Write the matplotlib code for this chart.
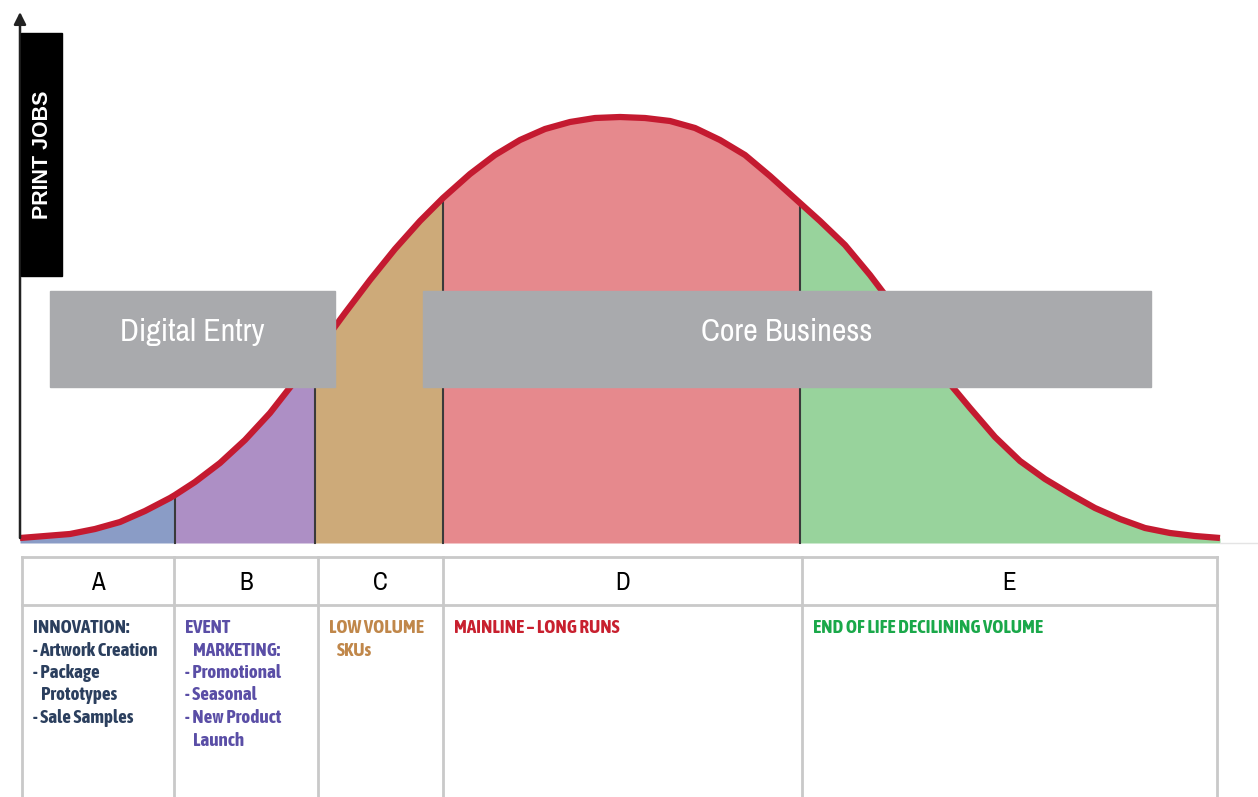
import numpy as np
import matplotlib.pyplot as plt
from matplotlib import font_manager
from matplotlib.patches import Rectangle

# print jobs (height above the base line, px)
curve_x = [20, 45, 70, 95, 120, 145, 170, 175, 195, 220, 245, 270, 295, 315, 320,
           345, 370, 395, 420, 443, 470, 495, 520, 545, 570, 595, 620, 645, 670,
           695, 720, 745, 770, 800, 820, 845, 870, 895, 920, 945, 970, 995, 1020,
           1045, 1070, 1095, 1120, 1145, 1170, 1195, 1220]
jobs = [3, 5, 7, 12, 19, 30, 43, 46, 59, 78, 101, 128, 160, 187, 194,
        228, 261, 292, 320, 343, 367, 386, 401, 412, 419, 423, 424, 423, 420,
        413, 401, 386, 365, 338, 320, 296, 266, 233, 198, 163, 133, 104, 80,
        62, 47, 33, 22, 13, 8, 5, 3]

stage_names = ["A", "B", "C", "D", "E"]
stage_edges = [20, 175, 315, 443, 800, 1220]
stage_colors = ["#8a9cc6", "#ad8fc5", "#cdaa79", "#e6898d", "#98d39c"]

col_edges = [22, 174, 318, 443, 802, 1217]
stage_text = [
    ["INNOVATION:", "- Artwork Creation", "- Package", "  Prototypes", "- Sale Samples"],
    ["EVENT", "  MARKETING:", "- Promotional", "- Seasonal", "- New Product", "  Launch"],
    ["LOW VOLUME", "  SKUs"],
    ["MAINLINE \u2013 LONG RUNS"],
    ["END OF LIFE DECILINING VOLUME"],
]
text_colors = ["#2b3f5e", "#5a4ea6", "#c0874a", "#c8202f", "#1aa84a"]

bands = [("Digital Entry", 50, 335), ("Core Business", 423, 1151)]

BASE_Y = 541   # pixel row of the curve's base
FILL_Y = 543


def weight_num(w):
    if isinstance(w, (int, float)):
        return int(w)
    return font_manager.weight_dict.get(str(w), 400)


def narrow_faces():
    """Return (regular family, bold family) of an upright condensed face, if any."""
    faces = {}
    for f in font_manager.fontManager.ttflist:
        cond = ("Condensed" in f.name or "Narrow" in f.name
                or "condensed" in str(f.stretch) or "narrow" in str(f.stretch))
        if cond and f.style == "normal":
            faces.setdefault(f.name, set()).add(weight_num(f.weight))
    if not faces:
        return ["Roboto", "DejaVu Sans"], ["Roboto", "DejaVu Sans"], False
    names = sorted(faces)
    reg = [n for n in names if min(faces[n]) <= 400]
    bold = [n for n in names if max(faces[n]) >= 600]
    reg_name = reg[0] if reg else names[0]
    both = [n for n in reg if n in bold]
    bold_name = both[0] if both else (bold[0] if bold else reg_name)
    return [reg_name, "DejaVu Sans"], [bold_name, "DejaVu Sans"], True


def main():
    narrow, narrow_bold, is_cond = narrow_faces()
    k = 1.0 if is_cond else 0.82

    fig = plt.figure(figsize=(12.58, 7.97), dpi=100)
    ax = fig.add_axes([0, 0, 1, 1])
    ax.set_xlim(0, 1258)
    ax.set_ylim(797, 0)
    ax.axis("off")

    x = np.array(curve_x)
    y = BASE_Y - np.array(jobs)

    # coloured stages under the curve
    for i in range(5):
        m = (x >= stage_edges[i]) & (x <= stage_edges[i + 1])
        ax.fill_between(x[m], y[m], FILL_Y, color=stage_colors[i], lw=0, zorder=1)
    for e in stage_edges[1:-1]:
        top = y[x == e][0]
        ax.plot([e, e], [FILL_Y, top], color="#3a3a3a", lw=1.5, zorder=2)

    ax.plot(x, y, color="#c41a30", lw=4.5, solid_capstyle="butt",
            solid_joinstyle="round", zorder=3)
    ax.plot([1220, 1258], [FILL_Y, FILL_Y], color="#e4e4e4", lw=1, zorder=1)

    # y axis with arrow and label
    ax.annotate("", xy=(20, 12), xytext=(20, 538),
                arrowprops=dict(arrowstyle="-|>", color="#222222", lw=1.8,
                                mutation_scale=18, shrinkA=0, shrinkB=0), zorder=4)
    ax.add_patch(Rectangle((21, 33), 41, 243, color="black", zorder=5))
    ax.text(42, 155, "PRINT JOBS", rotation=90, color="white", fontsize=15.5,
            fontweight="bold", family=["Liberation Sans", "DejaVu Sans"],
            ha="center", va="center", zorder=6)

    # grey bands
    for label, x0, x1 in bands:
        ax.add_patch(Rectangle((x0, 291), x1 - x0, 96, color="#a9aaad", zorder=5))
        ax.text((x0 + x1) / 2, 332, label, color="white", fontsize=23 * k,
                family=narrow, style="normal", fontweight="normal",
                ha="center", va="center", zorder=6)

    # table
    grid = "#c9c9c9"
    ax.plot([col_edges[0], col_edges[-1]], [557, 557], color=grid, lw=2)
    ax.plot([col_edges[0], col_edges[-1]], [605, 605], color=grid, lw=2)
    for c in col_edges:
        ax.plot([c, c], [557, 797], color=grid, lw=2)

    for i, name in enumerate(stage_names):
        cx = (col_edges[i] + col_edges[i + 1]) / 2
        ax.text(cx, 583, name, fontsize=18 * k, family=narrow, style="normal",
                fontweight="normal", color="black", ha="center", va="center")
        for j, line in enumerate(stage_text[i]):
            indent = 8 if line.startswith("  ") else 0
            ax.text(col_edges[i] + 11 + indent, 628 + j * 22.5, line.strip(),
                    fontsize=13.7 * k, fontweight="bold", style="normal",
                    family=narrow_bold, color=text_colors[i],
                    ha="left", va="center")

    fig.savefig("out.png", dpi=100)
    plt.close(fig)


if __name__ == "__main__":
    main()
